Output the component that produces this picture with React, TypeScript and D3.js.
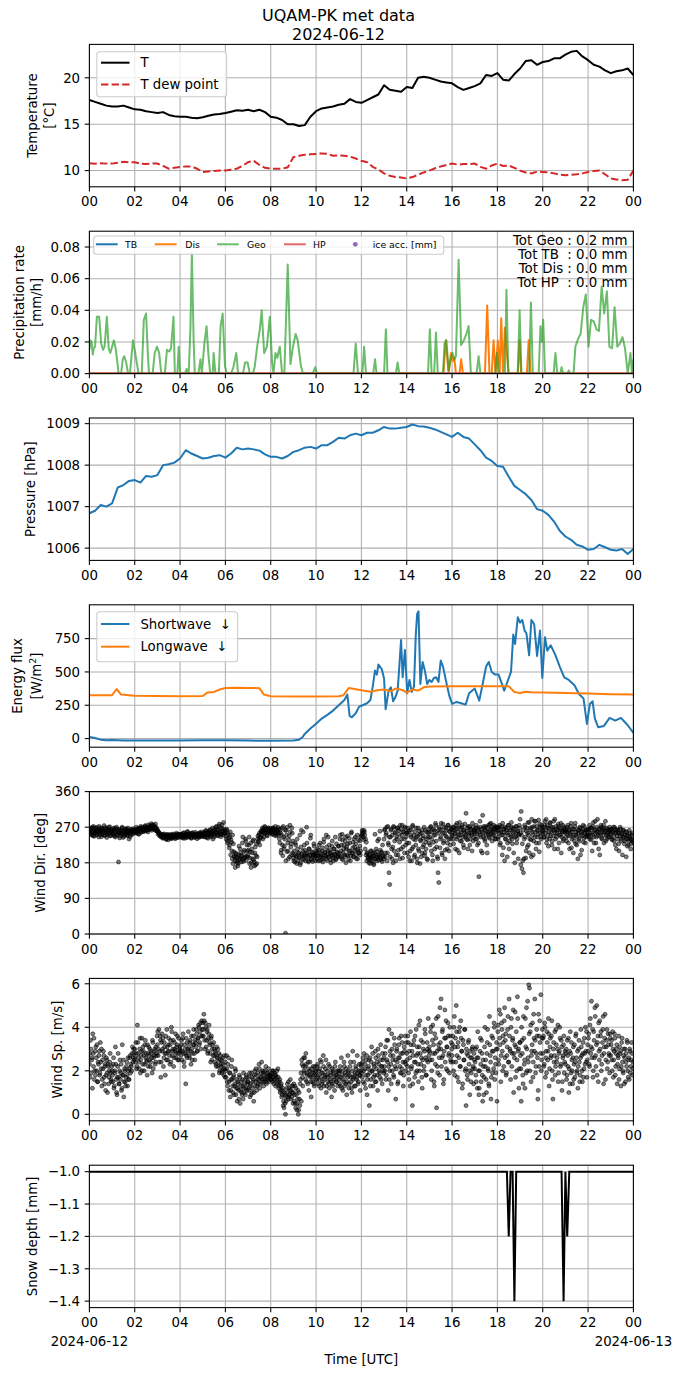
import * as d3 from "d3";

// ---- values ----
// temperature and dew point, every 15 min from 00 UTC
const tempC = [17.6, 17.4, 17.2, 17.0, 16.9, 16.9, 17.0, 16.8, 16.6, 16.55, 16.4, 16.3, 16.2, 16.3, 16.0, 15.85,
  15.8, 15.8, 15.7, 15.65, 15.75, 15.9, 16.05, 16.1, 16.2, 16.35, 16.5, 16.45, 16.55, 16.4, 16.55, 16.3,
  15.8, 15.7, 15.45, 15.0, 15.0, 14.8, 14.9, 15.8, 16.4, 16.7, 16.8, 16.9, 17.1, 17.2, 17.7, 17.4,
  17.3, 17.6, 17.9, 18.2, 19.2, 18.7, 18.6, 18.5, 19.0, 18.9, 20.0, 20.1, 20.0, 19.8, 19.6, 19.5,
  19.4, 19.0, 18.7, 18.9, 19.1, 19.4, 20.3, 20.2, 20.5, 19.8, 19.7, 20.4, 21.0, 21.8, 21.9, 21.4,
  21.7, 21.8, 22.1, 22.1, 22.5, 22.8, 22.9, 22.3, 21.9, 21.4, 21.2, 20.8, 20.5, 20.7, 20.8, 21.0, 20.3];
const dewC = [10.8, 10.75, 10.8, 10.75, 10.75, 10.85, 10.95, 10.9, 10.9, 10.75, 10.7, 10.75, 10.75, 10.5, 10.2, 10.3,
  10.4, 10.45, 10.45, 10.2, 9.85, 9.9, 9.95, 10.0, 10.0, 10.1, 10.2, 10.5, 10.9, 11.05, 10.6, 10.3,
  10.2, 10.2, 10.2, 10.35, 11.45, 11.6, 11.7, 11.75, 11.8, 11.85, 11.8, 11.6, 11.65, 11.6, 11.5, 11.3,
  11.05, 10.9, 10.4, 10.1, 9.7, 9.45, 9.3, 9.25, 9.15, 9.3, 9.55, 9.8, 10.0, 10.25, 10.45, 10.6,
  10.75, 10.65, 10.7, 10.7, 10.75, 10.4, 10.2, 10.55, 10.75, 10.5, 10.55, 10.3, 10.0, 9.8, 9.7, 9.9,
  9.85, 9.8, 9.7, 9.55, 9.5, 9.55, 9.6, 9.7, 9.85, 9.95, 10.0, 9.6, 9.15, 9.05, 8.95, 9.0, 10.0];
// pressure, every 15 min
const pressHpa = [1006.84, 1006.9, 1007.04, 1007.0, 1007.08, 1007.46, 1007.52, 1007.62, 1007.64, 1007.58, 1007.74, 1007.72,
  1007.76, 1008.0, 1008.02, 1008.06, 1008.16, 1008.36, 1008.28, 1008.22, 1008.16, 1008.18, 1008.22, 1008.24,
  1008.18, 1008.28, 1008.42, 1008.38, 1008.4, 1008.38, 1008.35, 1008.26, 1008.2, 1008.2, 1008.16, 1008.22,
  1008.32, 1008.36, 1008.42, 1008.44, 1008.4, 1008.48, 1008.48, 1008.56, 1008.66, 1008.64, 1008.72, 1008.76,
  1008.72, 1008.78, 1008.78, 1008.84, 1008.92, 1008.88, 1008.88, 1008.9, 1008.92, 1008.98, 1008.94, 1008.93,
  1008.9, 1008.86, 1008.8, 1008.74, 1008.68, 1008.78, 1008.68, 1008.64, 1008.5, 1008.36, 1008.18, 1008.1,
  1007.98, 1007.96, 1007.72, 1007.5, 1007.4, 1007.3, 1007.16, 1006.94, 1006.9, 1006.8, 1006.64, 1006.42,
  1006.28, 1006.2, 1006.08, 1006.04, 1005.96, 1005.98, 1006.08, 1006.02, 1005.96, 1005.94, 1005.98, 1005.86, 1005.98];

// precipitation rate [hour, mm/h]
const geoPts = [[0, 0.015], [0.05, 0.021], [0.1, 0.02], [0.15, 0.012], [0.19, 0.016], [0.25, 0.017], [0.33, 0.036], [0.43, 0.036],
  [0.52, 0.019], [0.6, 0.015], [0.67, 0.017], [0.77, 0.036], [0.85, 0.016], [0.92, 0.013], [1.0, 0.017], [1.08, 0.021],
  [1.17, 0.015], [1.29, 0], [1.4, 0], [1.47, 0.009], [1.54, 0.011], [1.62, 0.007], [1.71, 0], [1.79, 0], [1.92, 0.021],
  [2.02, 0.013], [2.1, 0.006], [2.17, 0], [2.31, 0], [2.4, 0.034], [2.5, 0.038], [2.58, 0.012], [2.63, 0], [2.79, 0],
  [2.88, 0.013], [2.98, 0.017], [3.08, 0.013], [3.17, 0], [3.33, 0], [3.42, 0.015], [3.52, 0.014], [3.6, 0.016],
  [3.71, 0.036], [3.77, 0], [3.88, 0], [3.94, 0.017], [4.0, 0], [4.21, 0], [4.29, 0.003], [4.38, 0], [4.46, 0.03],
  [4.52, 0.076], [4.6, 0.02], [4.65, 0], [4.81, 0], [4.9, 0.009], [4.96, 0], [5.08, 0.02], [5.17, 0.03], [5.25, 0.012],
  [5.33, 0], [5.44, 0], [5.48, 0.013], [5.56, 0], [5.71, 0], [5.79, 0.03], [5.88, 0.038], [5.98, 0.005], [6.06, 0],
  [6.25, 0], [6.35, 0.004], [6.48, 0.013], [6.56, 0], [6.77, 0], [6.87, 0.007], [6.98, 0.007], [7.08, 0], [7.21, 0],
  [7.29, 0.004], [7.4, 0.017], [7.52, 0.028], [7.6, 0.04], [7.71, 0.013], [7.83, 0.017], [7.96, 0.036], [8.06, 0.007],
  [8.12, 0], [8.21, 0.013], [8.29, 0.01], [8.4, 0.017], [8.5, 0], [8.6, 0], [8.75, 0.069], [8.87, 0.006], [8.98, 0.017],
  [9.1, 0.025], [9.19, 0.021], [9.33, 0.005], [9.42, 0], [9.85, 0], [9.96, 0.004], [10.04, 0], [11.65, 0], [11.75, 0.019],
  [11.85, 0], [12.04, 0], [12.12, 0.017], [12.2, 0], [12.52, 0], [12.6, 0.009], [12.67, 0], [13.0, 0], [13.08, 0.028],
  [13.15, 0], [13.52, 0], [13.6, 0.007], [13.67, 0], [14.94, 0], [15.02, 0.028], [15.1, 0], [15.21, 0], [15.29, 0.026],
  [15.37, 0], [15.6, 0], [15.67, 0.019], [15.75, 0.021], [15.85, 0.002], [15.94, 0.009], [16.02, 0.013], [16.1, 0.009],
  [16.17, 0.011], [16.29, 0.072], [16.4, 0.018], [16.52, 0.021], [16.63, 0.025], [16.73, 0.03], [16.83, 0], [17.08, 0],
  [17.17, 0.011], [17.25, 0], [17.9, 0], [17.98, 0.013], [18.06, 0], [18.33, 0], [18.4, 0.053], [18.48, 0], [18.9, 0],
  [18.98, 0.04], [19.06, 0], [19.4, 0], [19.48, 0.045], [19.56, 0], [19.82, 0], [19.9, 0.03], [19.96, 0.02], [20.02, 0.034],
  [20.1, 0], [20.48, 0], [20.56, 0.013], [20.64, 0], [20.77, 0], [20.83, 0.004], [20.9, 0], [21.08, 0], [21.15, 0.002],
  [21.21, 0], [21.36, 0], [21.44, 0.017], [21.56, 0.022], [21.67, 0.025], [21.79, 0.042], [21.9, 0.05], [22.02, 0.017],
  [22.13, 0.034], [22.25, 0.033], [22.37, 0.028], [22.48, 0.027], [22.6, 0.055], [22.71, 0.038], [22.83, 0.052],
  [22.94, 0.017], [23.06, 0.016], [23.17, 0.042], [23.29, 0.017], [23.4, 0.019], [23.52, 0.023], [23.63, 0.016],
  [23.75, 0], [23.87, 0.013], [23.94, 0], [24, 0.009]];
const disPts = [[0, 0], [15.62, 0], [15.72, 0.021], [15.85, 0], [15.95, 0.013], [16.03, 0.008], [16.1, 0.01], [16.17, 0],
  [16.33, 0], [16.4, 0.009], [16.48, 0], [17.45, 0], [17.55, 0.043], [17.65, 0], [17.75, 0], [17.83, 0.021], [17.92, 0],
  [18.02, 0.021], [18.1, 0], [18.17, 0.035], [18.25, 0], [18.33, 0.029], [18.42, 0.012], [18.5, 0], [18.9, 0],
  [18.98, 0.021], [19.05, 0], [19.3, 0], [19.38, 0.021], [19.46, 0], [24, 0]];
const tbPts = [[0, 0], [24, 0]];
const hpPts = [[0, 0], [24, 0]];
const totals = ["Tot Geo : 0.2 mm", "Tot TB  : 0.0 mm", "Tot Dis : 0.0 mm", "Tot HP  : 0.0 mm"];

// downwelling radiation [hour, W/m2]
const swPts = [[0, 12], [0.25, 5], [0.5, -8], [0.75, -12], [1, -10], [1.5, -15], [2, -15], [3, -15], [4, -14], [5, -13],
  [6, -13], [7, -15], [8, -16], [9, -15], [9.25, -8], [9.4, 10], [9.5, 35], [9.75, 75], [10, 112], [10.25, 150],
  [10.5, 178], [10.75, 210], [11, 250], [11.25, 290], [11.38, 330], [11.48, 170], [11.58, 160], [11.75, 190], [11.9, 240],
  [12.05, 250], [12.25, 265], [12.4, 290], [12.5, 390], [12.6, 510], [12.68, 480], [12.75, 555], [12.9, 520], [13, 450],
  [13.07, 220], [13.2, 360], [13.3, 385], [13.4, 280], [13.5, 310], [13.6, 360], [13.68, 560], [13.75, 740], [13.82, 460],
  [13.92, 665], [14.02, 340], [14.12, 440], [14.22, 350], [14.32, 390], [14.4, 780], [14.46, 935], [14.52, 955],
  [14.6, 410], [14.7, 575], [14.8, 510], [14.9, 410], [15, 440], [15.1, 425], [15.2, 455], [15.3, 460], [15.4, 425],
  [15.5, 585], [15.6, 540], [15.75, 420], [15.88, 320], [16, 260], [16.2, 275], [16.4, 265], [16.6, 255], [16.75, 340],
  [17, 375], [17.2, 285], [17.35, 410], [17.5, 540], [17.62, 575], [17.75, 500], [17.9, 480], [18.05, 480], [18.2, 410],
  [18.3, 360], [18.45, 430], [18.6, 500], [18.7, 780], [18.78, 710], [18.9, 910], [19, 870], [19.1, 890], [19.2, 810],
  [19.28, 790], [19.4, 625], [19.5, 890], [19.62, 860], [19.75, 620], [19.88, 810], [19.98, 455], [20.1, 760],
  [20.2, 660], [20.35, 700], [20.55, 630], [20.75, 540], [20.95, 460], [21.15, 440], [21.4, 400], [21.6, 335],
  [21.8, 300], [21.95, 110], [22.08, 260], [22.2, 280], [22.3, 150], [22.45, 85], [22.7, 95], [22.95, 155],
  [23.2, 135], [23.45, 155], [23.75, 100], [24, 42]];
const lwPts = [[0, 325], [1, 325], [1.2, 372], [1.4, 330], [2, 322], [3, 320], [4, 318], [5, 320], [5.2, 345], [5.5, 350],
  [5.75, 368], [6, 380], [6.5, 382], [7, 380], [7.5, 378], [7.7, 330], [8, 318], [9, 316], [10, 316], [11, 318],
  [11.2, 325], [11.45, 380], [11.7, 372], [12, 362], [12.4, 352], [12.7, 362], [13, 368], [13.3, 355], [13.5, 375],
  [13.8, 365], [14, 345], [14.25, 368], [14.5, 360], [14.75, 385], [15, 390], [16, 392], [17, 392], [18, 392],
  [18.5, 392], [18.75, 350], [19, 342], [19.25, 352], [19.5, 348], [20, 345], [21, 342], [22, 338], [23, 333], [24, 330]];

// wind direction [deg], one row per hour; set A on odd minutes, set B on even minutes
const dirRowsA = [
  [262, 255, 268, 250, 258, 272, 247, 260, 265, 253, 270, 258, 245, 262, 256, 268, 251, 263, 259, 274, 249, 257, 266, 252, 261, 270, 255, 248, 264, 258],
  [256, 262, 250, 268, 245, 259, 265, 252, 182, 257, 248, 263, 255, 270, 244, 258, 261, 252, 266, 249, 256, 263, 240, 258, 251, 265, 259, 254, 262, 257],
  [258, 263, 255, 266, 260, 252, 268, 262, 257, 270, 264, 259, 266, 272, 261, 268, 263, 258, 270, 266, 274, 268, 262, 276, 270, 265, 272, 278, 269, 264],
  [262, 258, 255, 250, 253, 248, 246, 252, 243, 249, 247, 240, 251, 245, 238, 247, 250, 244, 252, 242, 248, 253, 246, 241, 250, 255, 247, 244, 252, 249],
  [247, 252, 244, 250, 255, 246, 242, 253, 249, 258, 245, 251, 247, 254, 243, 250, 256, 248, 252, 245, 249, 253, 241, 250, 247, 255, 252, 246, 258, 250],
  [250, 246, 255, 252, 260, 244, 258, 249, 253, 262, 247, 256, 252, 240, 259, 265, 250, 270, 255, 262, 248, 273, 258, 266, 252, 276, 260, 282, 254, 262],
  [248, 262, 235, 255, 242, 225, 258, 238, 210, 250, 228, 196, 185, 205, 192, 180, 172, 200, 188, 215, 198, 190, 230, 183, 208, 195, 240, 186, 225, 200],
  [212, 245, 192, 230, 180, 205, 235, 188, 172, 220, 198, 178, 240, 232, 250, 225, 245, 258, 262, 240, 266, 255, 270, 262, 258, 248, 264, 268, 260, 255],
  [262, 255, 268, 260, 250, 265, 258, 252, 262, 270, 255, 240, 262, 205, 250, 225, 272, 215, 240, 2, 262, 208, 230, 190, 248, 275, 220, 200, 255, 235],
  [185, 200, 230, 195, 178, 215, 205, 192, 250, 180, 262, 198, 210, 188, 225, 200, 195, 270, 205, 185, 215, 198, 242, 190, 208, 183, 200, 222, 195, 210],
  [198, 205, 185, 212, 195, 230, 200, 188, 218, 192, 240, 205, 198, 250, 186, 210, 195, 225, 205, 180, 200, 235, 192, 215, 202, 245, 188, 208, 196, 222],
  [205, 240, 195, 225, 252, 188, 215, 200, 235, 180, 220, 248, 198, 210, 230, 185, 255, 205, 218, 195, 240, 210, 228, 190, 250, 215, 205, 235, 200, 245],
  [252, 258, 245, 262, 250, 240, 232, 205, 195, 188, 200, 178, 192, 210, 185, 198, 175, 205, 190, 215, 195, 235, 188, 200, 260, 192, 208, 183, 198, 190],
  [262, 195, 250, 270, 205, 230, 155, 125, 245, 265, 190, 220, 272, 210, 255, 185, 240, 268, 200, 262, 232, 275, 215, 250, 192, 258, 240, 268, 225, 255],
  [230, 258, 195, 262, 210, 245, 185, 272, 220, 250, 200, 238, 268, 190, 248, 215, 260, 178, 235, 255, 205, 242, 225, 198, 262, 215, 240, 188, 255, 230],
  [245, 270, 210, 258, 185, 232, 262, 250, 275, 220, 195, 155, 130, 265, 240, 280, 205, 255, 230, 270, 190, 248, 262, 215, 275, 240, 260, 225, 268, 250],
  [262, 240, 270, 252, 215, 265, 280, 245, 258, 205, 270, 250, 235, 275, 262, 218, 255, 245, 305, 260, 238, 272, 250, 225, 265, 255, 210, 270, 245, 262],
  [255, 268, 240, 225, 262, 145, 250, 270, 210, 258, 300, 245, 268, 235, 272, 260, 205, 252, 275, 242, 262, 280, 255, 270, 250, 265, 240, 272, 258, 268],
  [262, 245, 270, 225, 258, 272, 200, 250, 265, 185, 240, 268, 255, 230, 275, 215, 262, 250, 282, 240, 268, 205, 258, 245, 272, 230, 260, 190, 250, 268],
  [255, 310, 165, 185, 155, 240, 270, 192, 260, 220, 282, 250, 205, 268, 238, 290, 258, 200, 272, 245, 285, 230, 262, 252, 288, 208, 270, 245, 275, 260],
  [262, 245, 275, 255, 290, 240, 268, 222, 258, 280, 248, 270, 235, 262, 285, 215, 255, 272, 245, 262, 278, 230, 268, 250, 205, 260, 275, 240, 265, 255],
  [258, 235, 270, 248, 262, 215, 255, 280, 240, 265, 205, 250, 272, 228, 258, 245, 190, 262, 235, 268, 250, 212, 260, 275, 242, 255, 230, 262, 248, 265],
  [250, 265, 240, 268, 255, 210, 272, 245, 262, 285, 230, 258, 290, 248, 265, 200, 255, 270, 240, 262, 275, 250, 258, 235, 268, 255, 245, 262, 270, 252],
  [262, 240, 258, 270, 235, 255, 265, 215, 248, 262, 228, 255, 270, 240, 252, 200, 262, 245, 235, 258, 195, 250, 240, 225, 262, 245, 215, 238, 255, 232],
];
const dirRowsB = [
  [258, 266, 252, 260, 270, 248, 262, 255, 268, 257, 250, 264, 259, 272, 253, 261, 246, 267, 256, 263, 250, 269, 258, 244, 265, 254, 262, 271, 249, 260],
  [260, 253, 267, 247, 262, 256, 270, 250, 258, 264, 243, 261, 254, 268, 252, 259, 247, 265, 257, 262, 250, 268, 255, 260, 246, 263, 258, 252, 266, 261],
  [262, 256, 270, 259, 265, 253, 267, 261, 272, 258, 266, 263, 269, 260, 274, 265, 270, 262, 276, 268, 264, 272, 279, 266, 270, 275, 268, 262, 267, 260],
  [259, 252, 256, 248, 251, 245, 249, 242, 247, 253, 244, 250, 239, 246, 252, 243, 249, 245, 241, 250, 247, 244, 251, 246, 249, 243, 252, 248, 245, 251],
  [250, 245, 253, 248, 242, 256, 250, 247, 252, 244, 259, 249, 253, 246, 251, 242, 255, 248, 250, 244, 257, 251, 246, 253, 249, 244, 256, 250, 254, 248],
  [248, 253, 257, 245, 262, 250, 255, 242, 259, 251, 264, 247, 256, 268, 253, 245, 261, 257, 272, 249, 263, 255, 278, 252, 246, 268, 258, 250, 265, 256],
  [255, 240, 265, 230, 250, 218, 245, 200, 232, 190, 178, 208, 195, 168, 202, 185, 195, 178, 222, 190, 205, 182, 198, 245, 188, 212, 193, 235, 196, 210],
  [195, 225, 178, 208, 168, 215, 190, 238, 182, 205, 175, 228, 195, 248, 236, 255, 242, 260, 250, 268, 258, 245, 272, 255, 265, 250, 262, 268, 257, 263],
  [258, 265, 252, 268, 262, 256, 272, 248, 264, 258, 250, 266, 230, 255, 212, 268, 198, 245, 222, 262, 185, 250, 270, 210, 238, 195, 258, 228, 268, 205],
  [192, 210, 182, 225, 198, 240, 186, 205, 195, 175, 220, 202, 190, 258, 198, 212, 185, 205, 230, 195, 182, 215, 200, 250, 188, 205, 196, 228, 200, 185],
  [205, 190, 215, 198, 225, 185, 205, 195, 210, 182, 232, 198, 208, 190, 220, 200, 245, 195, 212, 188, 205, 222, 198, 185, 215, 200, 190, 228, 205, 195],
  [222, 198, 250, 210, 190, 238, 205, 225, 195, 245, 215, 200, 228, 188, 242, 210, 198, 258, 205, 232, 195, 220, 245, 200, 212, 190, 238, 205, 222, 210],
  [248, 262, 255, 238, 258, 215, 200, 185, 205, 192, 180, 198, 210, 188, 195, 205, 178, 198, 252, 190, 208, 185, 200, 240, 195, 212, 188, 205, 225, 195],
  [240, 265, 205, 255, 185, 272, 225, 245, 195, 262, 215, 250, 180, 270, 235, 258, 200, 245, 268, 212, 252, 190, 265, 240, 275, 220, 258, 205, 270, 245],
  [255, 205, 268, 230, 185, 250, 262, 215, 275, 240, 195, 258, 225, 245, 180, 268, 210, 252, 238, 195, 262, 220, 248, 270, 205, 232, 258, 190, 245, 265],
  [258, 225, 272, 240, 200, 265, 250, 215, 280, 235, 260, 190, 255, 270, 218, 245, 262, 200, 278, 235, 255, 212, 268, 245, 230, 275, 210, 258, 240, 265],
  [248, 270, 228, 262, 255, 275, 240, 212, 268, 250, 282, 235, 258, 270, 245, 225, 262, 278, 250, 240, 268, 215, 255, 272, 240, 262, 250, 280, 235, 258],
  [262, 240, 275, 252, 268, 230, 258, 285, 245, 265, 205, 255, 272, 240, 262, 250, 225, 270, 258, 245, 278, 252, 265, 235, 260, 275, 248, 262, 240, 270],
  [268, 240, 255, 275, 230, 262, 250, 280, 218, 258, 270, 240, 262, 195, 250, 275, 235, 262, 245, 270, 228, 255, 265, 180, 248, 272, 240, 260, 252, 275],
  [290, 175, 250, 228, 262, 190, 275, 245, 210, 268, 255, 225, 282, 240, 262, 195, 270, 250, 235, 285, 258, 215, 272, 245, 262, 230, 278, 255, 240, 268],
  [255, 270, 245, 285, 262, 230, 275, 250, 268, 240, 282, 258, 225, 270, 248, 262, 290, 240, 265, 255, 215, 272, 250, 262, 280, 245, 258, 235, 270, 260],
  [265, 245, 258, 275, 230, 262, 250, 272, 218, 258, 245, 265, 235, 280, 250, 225, 262, 255, 240, 270, 200, 258, 248, 265, 232, 272, 255, 245, 262, 250],
  [262, 245, 275, 255, 238, 268, 250, 282, 230, 262, 255, 245, 270, 258, 215, 265, 250, 275, 242, 258, 268, 230, 262, 285, 250, 240, 265, 258, 245, 262],
  [250, 265, 238, 258, 245, 270, 225, 255, 262, 240, 258, 210, 248, 265, 235, 255, 245, 262, 228, 250, 240, 258, 222, 248, 235, 255, 240, 228, 250, 238],
];
// wind speed [m/s], same layout
const spdRowsA = [
  [2.8, 3.4, 1.9, 2.6, 3.7, 2.2, 1.6, 2.9, 3.1, 2.0, 1.5, 2.4, 2.7, 1.8, 3.3, 2.1, 1.3, 2.5, 2.9, 1.7, 2.2, 1.1, 2.6, 1.9, 2.3, 1.4, 2.0, 2.8, 1.6, 2.2],
  [1.8, 2.3, 1.2, 2.0, 3.1, 1.6, 0.9, 2.2, 1.7, 1.4, 2.5, 1.9, 1.1, 3.2, 1.8, 0.8, 2.1, 1.5, 1.7, 2.4, 1.3, 2.0, 1.6, 2.6, 1.9, 2.2, 2.8, 2.4, 3.0, 2.5],
  [2.6, 3.3, 2.1, 4.1, 2.8, 2.4, 3.0, 1.9, 2.7, 3.5, 2.3, 2.9, 2.0, 3.2, 2.6, 2.4, 1.8, 2.8, 3.1, 2.5, 2.2, 2.9, 2.6, 3.4, 2.1, 2.7, 3.0, 2.4, 2.8, 3.6],
  [3.8, 3.0, 2.4, 3.6, 1.7, 3.3, 2.9, 3.5, 2.6, 3.1, 1.8, 2.8, 3.9, 2.5, 3.2, 2.9, 2.3, 3.4, 4.0, 2.7, 3.0, 2.2, 3.3, 2.9, 2.6, 3.1, 3.6, 2.8, 2.5, 3.0],
  [2.9, 3.2, 2.5, 3.5, 2.8, 2.2, 3.0, 1.4, 2.7, 3.3, 2.9, 3.1, 2.6, 3.4, 2.3, 3.0, 2.8, 3.6, 3.2, 2.5, 3.3, 3.9, 2.9, 3.5, 4.1, 3.2, 3.8, 3.0, 4.3, 3.6],
  [3.9, 4.6, 3.4, 4.2, 3.1, 3.8, 2.8, 3.5, 4.1, 3.2, 2.4, 3.6, 3.0, 1.8, 3.3, 2.7, 2.9, 2.3, 3.1, 2.6, 2.2, 2.8, 2.0, 2.5, 2.3, 1.9, 2.6, 2.1, 2.7, 1.7],
  [2.0, 2.7, 1.5, 2.3, 1.1, 1.9, 0.8, 1.6, 2.5, 1.3, 1.7, 0.9, 1.4, 2.0, 1.2, 0.6, 1.5, 1.1, 1.8, 0.5, 1.3, 1.0, 1.6, 0.7, 1.2, 1.4, 0.9, 1.8, 1.1, 1.5],
  [1.2, 1.7, 0.8, 1.4, 1.9, 1.0, 1.5, 0.6, 1.8, 1.3, 2.1, 1.1, 1.6, 1.4, 2.3, 1.2, 1.7, 1.9, 1.5, 2.0, 1.3, 1.8, 1.6, 2.2, 1.4, 1.7, 1.9, 1.5, 1.8, 1.6],
  [1.7, 1.9, 1.5, 2.0, 1.6, 1.8, 1.3, 1.7, 1.4, 2.1, 1.2, 1.5, 1.0, 1.3, 0.8, 1.1, 0.4, 0.3, 0.9, 0.0, 0.6, 1.2, 0.8, 1.5, 0.9, 1.1, 0.7, 1.3, 1.0, 0.5],
  [1.4, 0.9, 0.5, 1.2, 0.2, 0.7, 0.0, 1.0, 0.4, 1.6, 0.6, 2.3, 1.3, 2.6, 1.9, 2.2, 2.8, 1.5, 1.8, 2.4, 1.1, 2.0, 1.7, 0.8, 2.1, 1.5, 1.9, 1.3, 2.2, 1.6],
  [1.8, 2.2, 1.4, 2.0, 1.6, 2.5, 1.2, 1.9, 1.5, 2.7, 1.3, 1.7, 2.1, 1.0, 1.8, 1.5, 2.3, 1.2, 1.6, 1.9, 0.8, 1.4, 2.0, 1.7, 1.1, 2.4, 1.5, 1.8, 1.3, 2.0],
  [1.6, 2.0, 1.3, 2.6, 1.8, 1.1, 1.5, 2.2, 1.9, 1.4, 0.9, 1.7, 2.0, 1.2, 1.8, 2.4, 1.5, 1.0, 2.9, 1.7, 1.3, 1.9, 2.2, 1.6, 2.7, 1.4, 2.0, 1.8, 1.1, 2.3],
  [1.9, 2.4, 1.5, 2.8, 2.1, 1.2, 2.5, 0.9, 1.8, 2.2, 0.4, 2.6, 1.6, 3.1, 2.0, 1.3, 2.3, 1.8, 2.9, 1.5, 2.4, 1.1, 2.7, 2.0, 1.7, 3.2, 2.2, 1.4, 2.5, 1.9],
  [2.2, 2.8, 1.6, 3.4, 2.4, 1.1, 3.9, 2.0, 2.7, 1.4, 3.0, 2.5, 1.8, 3.5, 2.2, 0.7, 2.9, 2.4, 1.5, 3.2, 2.6, 1.9, 3.6, 2.1, 2.8, 1.3, 3.1, 2.4, 2.0, 3.3],
  [2.5, 3.6, 1.9, 2.9, 1.3, 3.2, 2.2, 0.4, 2.7, 3.4, 1.7, 2.4, 3.9, 2.0, 2.8, 1.5, 3.1, 4.3, 2.3, 2.6, 1.2, 3.3, 2.0, 2.9, 3.7, 1.8, 2.5, 3.0, 4.4, 2.7],
  [2.9, 3.8, 1.6, 2.5, 4.1, 3.2, 1.3, 2.8, 3.5, 0.3, 2.2, 4.5, 3.0, 1.8, 3.3, 5.3, 2.6, 3.9, 1.4, 2.9, 4.8, 3.5, 2.1, 3.1, 4.2, 2.7, 1.9, 3.6, 2.4, 3.0],
  [3.2, 2.4, 4.0, 1.8, 3.5, 5.0, 2.7, 3.1, 1.5, 3.8, 2.2, 4.3, 2.9, 1.2, 3.4, 2.5, 3.9, 2.0, 0.4, 2.8, 1.6, 3.3, 2.3, 0.9, 2.6, 1.9, 3.0, 2.1, 1.4, 2.5],
  [2.4, 1.8, 3.1, 1.2, 2.6, 0.9, 2.0, 3.5, 1.5, 2.8, 0.6, 2.2, 1.7, 4.0, 2.5, 1.0, 3.3, 2.1, 1.4, 4.5, 2.7, 0.7, 3.6, 1.9, 2.9, 4.2, 1.6, 2.3, 3.0, 0.6],
  [3.8, 2.5, 4.8, 3.2, 1.5, 4.2, 2.9, 3.6, 2.2, 4.9, 3.4, 1.8, 2.7, 3.9, 2.4, 5.3, 3.0, 1.6, 4.4, 2.8, 3.5, 1.0, 2.6, 4.7, 3.1, 2.0, 5.4, 2.9, 1.2, 3.3],
  [2.7, 0.6, 3.4, 1.8, 4.5, 2.3, 1.2, 3.1, 4.9, 2.0, 2.6, 5.95, 5.8, 3.8, 1.5, 2.9, 4.2, 2.4, 3.5, 5.3, 1.9, 2.8, 3.6, 0.7, 4.6, 2.2, 3.3, 5.5, 2.5, 3.9],
  [3.5, 2.2, 4.2, 1.7, 2.9, 3.8, 2.5, 4.4, 1.3, 3.1, 2.6, 3.6, 2.0, 0.7, 3.3, 2.7, 1.8, 3.9, 2.4, 3.0, 1.5, 2.8, 4.0, 2.2, 3.4, 1.1, 2.6, 3.2, 1.9, 2.9],
  [2.8, 1.6, 3.4, 2.2, 1.0, 2.9, 3.8, 1.9, 2.5, 1.4, 3.1, 2.3, 1.7, 3.6, 2.6, 2.0, 1.2, 3.0, 2.4, 1.8, 3.9, 2.7, 1.5, 3.3, 2.1, 2.8, 4.0, 2.4, 1.7, 3.2],
  [3.5, 2.3, 4.1, 2.8, 5.2, 3.0, 1.7, 3.8, 2.6, 4.5, 2.2, 5.0, 3.3, 1.5, 2.9, 4.3, 3.6, 2.0, 2.7, 3.9, 1.4, 3.1, 4.6, 2.5, 3.4, 2.1, 3.7, 2.8, 1.9, 3.5],
  [3.2, 2.5, 3.8, 1.7, 2.9, 3.5, 2.2, 3.0, 1.4, 2.7, 3.6, 2.1, 2.8, 1.3, 3.3, 2.4, 1.9, 3.0, 2.6, 1.5, 2.8, 3.4, 2.0, 2.5, 1.6, 2.9, 2.2, 3.3, 1.8, 2.4],
];
const spdRowsB = [
  [2.3, 1.7, 3.0, 2.5, 1.2, 2.8, 3.5, 2.0, 1.8, 2.6, 3.2, 1.5, 2.3, 2.9, 1.9, 2.4, 3.0, 1.6, 2.1, 2.7, 1.4, 2.3, 1.8, 2.5, 1.0, 2.2, 1.7, 2.4, 1.9, 1.5],
  [2.0, 1.5, 2.6, 1.3, 1.9, 2.3, 1.0, 1.7, 2.8, 1.4, 2.0, 1.6, 2.3, 1.2, 1.8, 2.5, 1.5, 2.0, 1.3, 2.2, 1.8, 2.6, 1.6, 2.1, 2.7, 2.3, 2.0, 3.1, 2.6, 2.8],
  [3.0, 2.4, 2.8, 2.2, 3.3, 2.6, 2.1, 3.5, 2.5, 2.9, 2.0, 3.1, 2.7, 2.3, 3.4, 2.8, 2.5, 3.2, 2.2, 2.7, 3.0, 2.4, 2.8, 1.9, 3.3, 2.6, 2.9, 2.3, 3.1, 2.7],
  [3.2, 2.7, 3.9, 2.9, 3.4, 2.4, 3.7, 3.0, 2.2, 3.3, 2.8, 3.6, 2.5, 3.1, 2.9, 3.5, 2.7, 3.2, 2.4, 3.8, 2.9, 3.4, 2.6, 3.0, 3.7, 2.8, 3.2, 2.5, 3.5, 2.9],
  [3.1, 2.7, 3.4, 2.9, 3.7, 2.4, 3.2, 2.8, 3.5, 2.6, 3.0, 3.8, 2.7, 3.3, 2.9, 3.6, 2.5, 3.2, 3.9, 2.8, 3.4, 3.1, 3.7, 2.9, 3.5, 4.0, 3.3, 4.2, 3.6, 3.9],
  [4.2, 3.6, 4.3, 3.0, 4.0, 3.4, 3.9, 2.9, 3.7, 3.3, 2.8, 3.5, 2.5, 3.2, 2.7, 3.0, 2.4, 2.8, 2.2, 2.6, 3.0, 2.4, 1.9, 2.7, 2.2, 2.5, 2.0, 2.3, 1.8, 2.1],
  [2.4, 1.7, 2.1, 1.3, 2.6, 1.5, 1.9, 1.1, 2.2, 1.6, 1.0, 1.8, 1.3, 2.1, 0.9, 1.6, 1.2, 1.4, 0.7, 1.7, 1.1, 1.5, 0.9, 1.3, 1.9, 1.0, 1.6, 1.2, 1.7, 1.4],
  [1.5, 1.1, 1.9, 1.3, 0.9, 1.7, 1.2, 1.6, 1.0, 2.0, 1.5, 1.8, 1.3, 1.9, 1.6, 2.1, 1.4, 1.7, 2.4, 1.6, 1.9, 1.5, 2.0, 1.7, 1.5, 1.9, 1.6, 2.1, 1.7, 1.8],
  [1.8, 1.6, 2.0, 1.7, 1.4, 1.9, 1.6, 1.8, 2.0, 1.5, 1.7, 1.3, 1.6, 1.1, 1.4, 0.9, 1.2, 0.6, 1.0, 0.5, 0.8, 1.0, 1.4, 0.7, 1.2, 0.9, 1.6, 1.1, 0.8, 1.3],
  [1.0, 0.6, 1.3, 0.3, 0.9, 0.5, 1.1, 0.2, 0.7, 1.4, 1.9, 2.5, 1.7, 2.2, 2.0, 2.6, 1.6, 2.3, 1.9, 1.4, 2.1, 1.8, 2.4, 1.5, 1.9, 1.7, 2.2, 1.4, 1.8, 2.0],
  [2.0, 1.6, 2.3, 1.8, 1.3, 2.1, 1.7, 2.4, 1.4, 1.9, 2.2, 1.6, 1.8, 2.5, 1.3, 2.0, 1.7, 1.4, 2.2, 1.8, 1.5, 2.1, 1.3, 1.9, 1.6, 2.2, 1.8, 1.5, 2.0, 1.7],
  [1.9, 1.4, 2.2, 1.7, 1.2, 2.0, 1.6, 2.4, 1.3, 1.8, 2.1, 1.5, 2.7, 1.9, 1.4, 2.2, 1.7, 1.2, 2.0, 1.6, 2.4, 1.8, 1.3, 2.1, 1.7, 1.9, 1.5, 2.3, 1.8, 2.0],
  [2.2, 1.7, 2.6, 2.0, 1.4, 2.3, 1.8, 2.7, 1.6, 2.1, 2.5, 1.9, 1.3, 2.4, 2.0, 2.8, 1.7, 2.2, 1.5, 2.6, 2.1, 1.8, 3.0, 2.3, 1.9, 2.5, 1.6, 2.2, 2.8, 2.0],
  [2.6, 2.0, 3.1, 1.8, 2.5, 3.4, 2.2, 1.6, 2.9, 2.3, 3.7, 2.0, 2.7, 1.7, 3.2, 2.5, 2.1, 3.0, 1.4, 2.6, 3.5, 2.2, 2.8, 1.9, 3.3, 2.4, 1.8, 2.9, 3.6, 2.3],
  [2.8, 2.2, 3.3, 1.6, 2.6, 3.8, 2.1, 2.9, 1.4, 3.2, 2.4, 3.6, 1.9, 2.7, 3.1, 2.3, 4.1, 2.0, 2.8, 3.4, 1.7, 2.5, 3.0, 2.2, 3.9, 2.6, 1.8, 3.3, 2.4, 2.9],
  [3.1, 2.5, 4.0, 2.0, 3.4, 2.8, 1.5, 3.7, 2.3, 4.4, 2.9, 1.9, 3.2, 2.6, 4.9, 3.0, 2.2, 3.8, 2.7, 1.6, 3.5, 2.4, 4.3, 3.1, 2.0, 3.6, 2.8, 4.0, 2.5, 3.3],
  [2.7, 3.6, 2.0, 4.5, 3.1, 2.4, 3.8, 1.7, 3.3, 2.6, 4.0, 2.2, 3.5, 2.9, 1.4, 3.2, 2.5, 3.9, 2.1, 3.0, 1.8, 2.7, 3.4, 2.0, 2.9, 1.5, 2.6, 3.1, 2.2, 2.8],
  [2.1, 3.0, 1.5, 2.6, 3.8, 2.0, 1.2, 2.9, 2.3, 3.4, 1.8, 2.5, 0.9, 3.1, 2.2, 1.6, 2.8, 3.9, 2.0, 1.3, 3.2, 2.4, 1.7, 2.9, 3.5, 2.1, 4.0, 2.6, 1.9, 3.3],
  [3.0, 4.1, 2.3, 3.5, 4.6, 2.7, 3.9, 2.0, 3.3, 4.3, 2.6, 3.7, 1.9, 3.1, 4.5, 2.4, 3.6, 2.9, 4.0, 2.2, 3.4, 4.8, 2.8, 3.2, 1.7, 3.8, 2.5, 4.4, 3.0, 2.1],
  [3.3, 2.1, 4.0, 2.8, 1.4, 3.5, 2.5, 4.4, 1.9, 3.0, 5.2, 2.4, 3.7, 2.0, 4.1, 2.7, 3.2, 1.7, 4.6, 2.9, 3.4, 2.2, 3.9, 2.6, 1.1, 3.6, 4.3, 2.8, 2.0, 3.5],
  [2.8, 3.6, 2.3, 4.0, 2.6, 1.9, 3.3, 2.9, 3.7, 2.1, 3.5, 2.7, 4.3, 1.6, 3.0, 2.4, 3.8, 2.2, 3.2, 2.6, 4.1, 1.9, 2.9, 3.5, 2.3, 3.1, 1.5, 2.7, 3.6, 2.4],
  [2.3, 3.0, 1.8, 2.7, 3.5, 2.1, 1.4, 2.8, 3.3, 2.0, 2.6, 1.6, 3.2, 2.4, 3.7, 1.9, 2.9, 2.2, 3.4, 1.5, 2.6, 3.1, 2.0, 2.8, 1.7, 3.5, 2.3, 2.9, 3.8, 2.5],
  [2.9, 3.7, 2.2, 4.4, 3.1, 2.6, 3.9, 2.0, 3.4, 4.9, 2.7, 3.2, 1.8, 3.6, 4.2, 2.5, 3.0, 3.8, 2.3, 3.3, 4.5, 2.8, 3.5, 1.6, 3.1, 3.9, 2.4, 3.2, 2.7, 3.7],
  [2.7, 3.4, 2.0, 3.0, 2.5, 3.7, 1.8, 2.8, 3.2, 2.3, 2.6, 1.6, 3.1, 2.9, 2.2, 3.5, 2.0, 2.7, 1.4, 3.0, 2.4, 2.2, 3.3, 1.7, 2.6, 3.0, 1.9, 2.5, 2.8, 2.1],
];

// snow depth [hour, mm]
const snowPts = [[0, -1], [18.42, -1], [18.5, -1.2], [18.58, -1], [18.67, -1], [18.75, -1.4], [18.83, -1],
  [20.83, -1], [20.92, -1.4], [21.0, -1], [21.08, -1.2], [21.17, -1], [24, -1]];

// ---- layout ----
const FONT = "DejaVu Sans";
const FS = 13.33;
const L = 89.4, R = 633.4, PH = 142.4;
const tops = d3.range(7).map((i) => 44.4 + i * 186.8);
const GRID = "#b0b0b0";

const t0 = Date.UTC(2024, 5, 12);
const at = (h: number) => new Date(t0 + h * 3600000);
const x = d3.scaleUtc().domain([at(0), at(24)]).range([L, R]);
const xTicks = x.ticks(d3.utcHour.every(2));
const hh = d3.utcFormat("%H");

const padded = (vals: number[]) => {
  const [a, b] = d3.extent(vals) as [number, number];
  const m = (b - a) * 0.05;
  return [a - m, b + m];
};
const quarter = (arr: number[]) => arr.map((v, i) => [i * 0.25, v]);
const spread = (rows: number[][], off: number) =>
  rows.flatMap((row, h) => row.map((v, j) => [h + (j + off) / row.length, v]));

function Axes({ idx, domain, ticks, fmt, children }) {
  const top = tops[idx];
  const bottom = top + PH;
  const y = d3.scaleLinear().domain(domain).range([bottom, top]);
  const line = d3.line<number[]>().x((d) => x(at(d[0]))).y((d) => y(d[1]));
  const clip = `clip-${idx}`;
  return (
    <g>
      <defs>
        <clipPath id={clip}>
          <rect x={L} y={top} width={R - L} height={PH} />
        </clipPath>
      </defs>
      {xTicks.map((t) => (
        <line key={+t} x1={x(t)} x2={x(t)} y1={top} y2={bottom} stroke={GRID} strokeWidth={1.07} />
      ))}
      {ticks.map((v) => (
        <line key={v} x1={L} x2={R} y1={y(v)} y2={y(v)} stroke={GRID} strokeWidth={1.07} />
      ))}
      <g clipPath={`url(#${clip})`}>{children(y, line)}</g>
      <rect x={L} y={top} width={R - L} height={PH} fill="none" stroke="#000" strokeWidth={1.07} />
      {xTicks.map((t) => (
        <g key={+t}>
          <line x1={x(t)} x2={x(t)} y1={bottom} y2={bottom + 4.67} stroke="#000" strokeWidth={1.07} />
          <text x={x(t)} y={bottom + 19.5} textAnchor="middle" fontSize={FS}>{hh(t)}</text>
        </g>
      ))}
      {ticks.map((v) => (
        <g key={v}>
          <line x1={L - 4.67} x2={L} y1={y(v)} y2={y(v)} stroke="#000" strokeWidth={1.07} />
          <text x={L - 9.3} y={y(v)} dy="0.36em" textAnchor="end" fontSize={FS}>{fmt(v)}</text>
        </g>
      ))}
    </g>
  );
}

function YLabel({ idx, cx, children }) {
  const cy = tops[idx] + PH / 2;
  return (
    <text transform={`translate(${cx},${cy}) rotate(-90)`} textAnchor="middle" dy="0.36em" fontSize={FS}>
      {children}
    </text>
  );
}

function LegendBox({ x0, y0, w, h }) {
  return <rect x={x0} y={y0} width={w} height={h} rx={3} fill="#fff" fillOpacity={0.8} stroke="#cccccc" strokeWidth={1.07} />;
}

export default function App() {
  const d0 = d3.format("d");
  const tempDomain = padded([...tempC, ...dewC]);
  const pressDomain = padded(pressHpa);
  const fluxDomain = padded([...swPts.map((d) => d[1]), ...lwPts.map((d) => d[1])]);
  const spdPts = [...spread(spdRowsA, 0.5), ...spread(spdRowsB, 0)];
  const dirPts = [...spread(dirRowsA, 0.5), ...spread(dirRowsB, 0)];
  const spdDomain = padded(spdPts.map((d) => d[1]));
  const snowDomain = padded(snowPts.map((d) => d[1]));

  const dot = (pts, y, key) =>
    pts.map((d, i) => (
      <circle key={key + i} cx={x(at(d[0]))} cy={y(d[1])} r={2.0} fill="#000" fillOpacity={0.5}
        stroke="#000" strokeOpacity={0.5} strokeWidth={1} />
    ));

  const precipLegend = [
    { name: "TB", color: "#1f77b4", op: 1, lx: 95.9, tx: 125 },
    { name: "Dis", color: "#ff7f0e", op: 1, lx: 154.8, tx: 185.3 },
    { name: "Geo", color: "#2ca02c", op: 0.7, lx: 217, tx: 247 },
    { name: "HP", color: "#d62728", op: 0.7, lx: 284, tx: 313 },
  ];

  return (
    <div style={{ position: "absolute", left: 0, top: 0 }}>
      <svg width={683} height={1377} fontFamily={FONT} style={{ display: "block", background: "#fff" }}>
        <text x={338.5} y={21} textAnchor="middle" fontSize={16}>UQAM-PK met data</text>
        <text x={338.5} y={39.5} textAnchor="middle" fontSize={16}>2024-06-12</text>

        {/* temperature */}
        <Axes idx={0} domain={tempDomain} ticks={[10, 15, 20]} fmt={d0}>
          {(y, line) => (
            <>
              <path d={line(quarter(tempC))} fill="none" stroke="#000" strokeWidth={2} strokeLinejoin="round" />
              <path d={line(quarter(dewC))} fill="none" stroke="#d62728" strokeWidth={2} strokeDasharray="7.4 3.2" />
            </>
          )}
        </Axes>
        <YLabel idx={0} cx={32}>Temperature</YLabel>
        <YLabel idx={0} cx={49}>[°C]</YLabel>
        <LegendBox x0={96.8} y0={51.7} w={129.9} h={45} />
        <line x1={101} x2={129.5} y1={62.7} y2={62.7} stroke="#000" strokeWidth={2} />
        <text x={140.4} y={62.7} dy="0.36em" fontSize={FS}>T</text>
        <line x1={101} x2={129.5} y1={84.5} y2={84.5} stroke="#d62728" strokeWidth={2} strokeDasharray="7.4 3.2" />
        <text x={140.4} y={84.5} dy="0.36em" fontSize={FS}>T dew point</text>

        {/* precipitation */}
        <Axes idx={1} domain={[0, 0.09]} ticks={[0, 0.02, 0.04, 0.06, 0.08]} fmt={d3.format(".2f")}>
          {(y, line) => (
            <>
              <path d={line(tbPts)} fill="none" stroke="#1f77b4" strokeWidth={2} />
              <path d={line(disPts)} fill="none" stroke="#ff7f0e" strokeWidth={2} strokeLinejoin="round" />
              <path d={line(geoPts)} fill="none" stroke="#2ca02c" strokeOpacity={0.7} strokeWidth={2} strokeLinejoin="round" />
              <path d={line(hpPts)} fill="none" stroke="#d62728" strokeOpacity={0.7} strokeWidth={2} />
            </>
          )}
        </Axes>
        <YLabel idx={1} cx={19}>Precipitation rate</YLabel>
        <YLabel idx={1} cx={36}>[mm/h]</YLabel>
        <LegendBox x0={93.7} y0={236} w={350.1} h={18.3} />
        {precipLegend.map((e) => (
          <g key={e.name}>
            <line x1={e.lx} x2={e.lx + 21.8} y1={244.3} y2={244.3} stroke={e.color} strokeOpacity={e.op} strokeWidth={2} />
            <text x={e.tx} y={244.3} dy="0.36em" fontSize={9.33}>{e.name}</text>
          </g>
        ))}
        <circle cx={355.3} cy={244.3} r={2.4} fill="#9467bd" />
        <text x={372.7} y={244.3} dy="0.36em" fontSize={9.33}>ice acc. [mm]</text>
        {totals.map((s, i) => (
          <text key={s} x={627.5} y={244.5 + i * 14} textAnchor="end" fontSize={13.33} style={{ whiteSpace: "pre" }}>{s}</text>
        ))}

        {/* pressure */}
        <Axes idx={2} domain={pressDomain} ticks={[1006, 1007, 1008, 1009]} fmt={d0}>
          {(y, line) => <path d={line(quarter(pressHpa))} fill="none" stroke="#1f77b4" strokeWidth={2} strokeLinejoin="round" />}
        </Axes>
        <YLabel idx={2} cx={30}>Pressure [hPa]</YLabel>

        {/* radiation */}
        <Axes idx={3} domain={fluxDomain} ticks={[0, 250, 500, 750]} fmt={d0}>
          {(y, line) => (
            <>
              <path d={line(swPts)} fill="none" stroke="#1f77b4" strokeWidth={2} strokeLinejoin="round" />
              <path d={line(lwPts)} fill="none" stroke="#ff7f0e" strokeWidth={2} strokeLinejoin="round" />
            </>
          )}
        </Axes>
        <YLabel idx={3} cx={17}>Energy flux</YLabel>
        <YLabel idx={3} cx={36}>
          <tspan>[W/m</tspan>
          <tspan dy={-5} fontSize={9.5}>2</tspan>
          <tspan dy={5}>]</tspan>
        </YLabel>
        <LegendBox x0={96.8} y0={611.7} w={140.8} h={50} />
        <line x1={101} x2={129.5} y1={624} y2={624} stroke="#1f77b4" strokeWidth={2} />
        <text x={140.4} y={624} dy="0.36em" fontSize={FS} style={{ whiteSpace: "pre" }}>Shortwave  ↓</text>
        <line x1={101} x2={129.5} y1={646.7} y2={646.7} stroke="#ff7f0e" strokeWidth={2} />
        <text x={140.4} y={646.7} dy="0.36em" fontSize={FS} style={{ whiteSpace: "pre" }}>Longwave  ↓</text>

        {/* wind direction */}
        <Axes idx={4} domain={[0, 360]} ticks={[0, 90, 180, 270, 360]} fmt={d0}>
          {(y) => <>{dot(dirPts, y, "d")}</>}
        </Axes>
        <YLabel idx={4} cx={40}>Wind Dir. [deg]</YLabel>

        {/* wind speed */}
        <Axes idx={5} domain={spdDomain} ticks={[0, 2, 4, 6]} fmt={d0}>
          {(y) => <>{dot(spdPts, y, "s")}</>}
        </Axes>
        <YLabel idx={5} cx={57.5}>Wind Sp. [m/s]</YLabel>

        {/* snow depth */}
        <Axes idx={6} domain={snowDomain} ticks={[-1.4, -1.3, -1.2, -1.1, -1.0]} fmt={d3.format(".1f")}>
          {(y, line) => <path d={line(snowPts)} fill="none" stroke="#000" strokeWidth={2} />}
        </Axes>
        <YLabel idx={6} cx={32}>Snow depth [mm]</YLabel>
        <text x={x(at(0))} y={1345.5} textAnchor="middle" fontSize={FS}>2024-06-12</text>
        <text x={x(at(24))} y={1345.5} textAnchor="middle" fontSize={FS}>2024-06-13</text>
        <text x={(L + R) / 2} y={1363.5} textAnchor="middle" fontSize={FS}>Time [UTC]</text>
      </svg>
    </div>
  );
}
